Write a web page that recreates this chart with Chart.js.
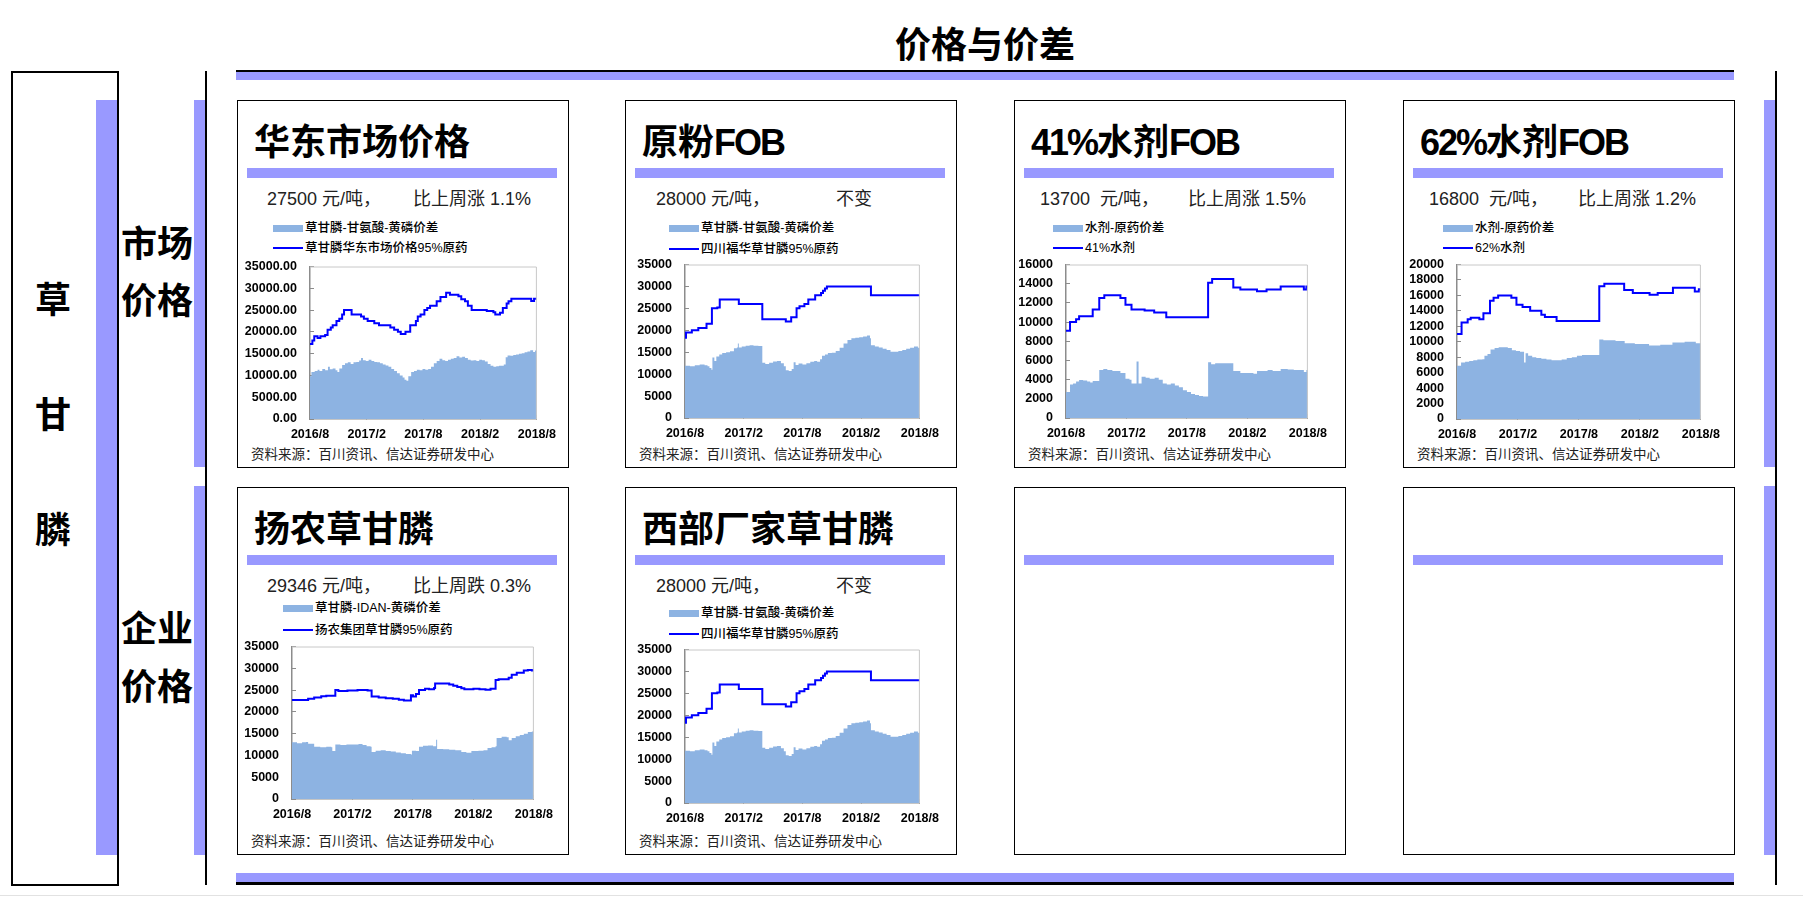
<!DOCTYPE html>
<html>
<head>
<meta charset="utf-8">
<title>价格与价差</title>
<script src="https://cdn.jsdelivr.net/npm/chart.js@4.4.0/dist/chart.umd.min.js"></script>
<style>
  body {
    margin: 0;
    width: 1803px;
    height: 907px;
    position: relative;
    overflow: hidden;
    background: #fff;
    color: #000;
    font-family: "Liberation Sans", Arial, "Noto Sans CJK SC", sans-serif;
  }
  .band { position: absolute; background: #9999ff; }
  .rule { position: absolute; background: #000; }
  .panel { position: absolute; width: 330px; height: 366px; border: 1px solid #000; background: #fff; }
  .big { position: absolute; font-weight: bold; font-size: 36px; line-height: 40px; white-space: nowrap; }
  .big .lat { letter-spacing: -2px; }
  .txt { position: absolute; white-space: pre; }
</style>
</head>
<body>

<div class="big" style="left:895px; top:26px;">价格与价差</div>
<div class="rule" style="left:236px; top:70px; width:1498px; height:2px;"></div>
<div class="band" style="left:236px; top:72px; width:1498px; height:8px;"></div>
<div class="band" style="left:236px; top:873px; width:1498px; height:9px;"></div>
<div class="rule" style="left:236px; top:882px; width:1498px; height:3px;"></div>

<!-- left side labels -->
<div style="position:absolute; left:11px; top:71px; width:104px; height:811px; border:2px solid #000;"></div>
<div class="band" style="left:96px; top:100px; width:21px; height:755px;"></div>
<div class="big" style="left:35px; top:281px;">草</div>
<div class="big" style="left:35px; top:396px;">甘</div>
<div class="big" style="left:35px; top:511px;">膦</div>
<div class="big" style="left:121px; top:225px;">市场</div>
<div class="big" style="left:121px; top:282px;">价格</div>
<div class="big" style="left:121px; top:610px;">企业</div>
<div class="big" style="left:121px; top:668px;">价格</div>
<div class="band" style="left:194px; top:100px; width:11px; height:367px;"></div>
<div class="band" style="left:194px; top:486px; width:11px; height:369px;"></div>
<div class="rule" style="left:205px; top:71px; width:2px; height:814px;"></div>
<div class="band" style="left:1764px; top:100px; width:11px; height:367px;"></div>
<div class="band" style="left:1764px; top:486px; width:11px; height:369px;"></div>
<div class="rule" style="left:1775px; top:71px; width:2px; height:814px;"></div>
<div style="position:absolute; left:0; top:895px; width:1803px; height:1px; background:#e2e2e2;"></div>

<script>
// x axis: months since 2016/8, one tick every half year
const xTickLabels = ['2016/8', '2017/2', '2017/8', '2018/2', '2018/8'];

// 华东市场价格 (元/吨): [month, value]
const eastPrice = [
  [0, 17200], [0.25, 18000], [0.45, 19000], [0.8, 18600], [1.1, 19000], [1.6, 19300], [1.86, 20500],
  [2.2, 21000], [2.4, 21500], [2.8, 22500], [3.1, 23000], [3.4, 24000], [3.6, 25000], [4.4, 24000],
  [5.4, 23500], [5.7, 23000], [6.1, 22500], [6.8, 22000], [7.3, 21500], [8.5, 21000], [8.9, 20500],
  [9.3, 20000], [9.6, 19500], [10.1, 20000], [10.6, 21500], [11.2, 22500], [11.4, 23500], [11.7, 24000],
  [12.1, 25000], [12.4, 25500], [12.7, 26000], [13.4, 27000], [13.8, 28000], [14.4, 29000], [14.8, 28500],
  [15.7, 28200], [16.0, 27500], [16.4, 27000], [16.7, 26000], [17.1, 25000], [18.7, 24800], [19.4, 24500],
  [19.6, 24000], [20.1, 24400], [20.4, 25500], [20.8, 26500], [21.0, 27000], [21.3, 27600], [23.4, 27100],
  [23.7, 27600], [24, 27600]
];
const eastSpread = [
  [0, 9800], [0.15, 10800], [0.5, 11000], [0.8, 11300], [1.0, 11000], [1.3, 11500], [1.6, 11200],
  [1.9, 12000], [2.1, 11400], [2.4, 11600], [2.7, 11200], [2.9, 10800], [3.1, 11600], [3.4, 12400],
  [3.7, 12800], [4.0, 13000], [4.3, 12600], [4.6, 13000], [4.9, 13100], [5.2, 13400], [5.4, 14000],
  [5.6, 13500], [5.9, 13300], [6.2, 13600], [6.5, 13300], [6.8, 13100], [7.1, 13000], [7.4, 12800],
  [7.7, 12500], [8.0, 12300], [8.3, 12000], [8.6, 11500], [8.9, 11000], [9.2, 10500], [9.5, 10000],
  [9.8, 9500], [10.0, 9000], [10.2, 8800], [10.4, 9800], [10.7, 10800], [11.0, 11000], [11.3, 11300],
  [11.6, 11200], [11.9, 11500], [12.2, 11300], [12.5, 11500], [12.8, 12000], [13.1, 12800], [13.4, 13300],
  [13.7, 13800], [14.0, 13500], [14.3, 13300], [14.6, 13600], [14.9, 13800], [15.2, 14000], [15.5, 14400],
  [15.8, 14100], [16.1, 14300], [16.4, 14000], [16.7, 13600], [17.0, 13400], [17.3, 13500], [17.6, 13300],
  [17.9, 13600], [18.2, 13500], [18.5, 13200], [18.8, 12600], [19.1, 12200], [19.4, 12000], [19.7, 12100],
  [20.0, 12200], [20.5, 12500], [20.7, 14200], [20.9, 14600], [21.2, 14500], [21.5, 14700], [21.8, 14800],
  [22.1, 15000], [22.4, 15100], [22.7, 15300], [23.0, 15500], [23.3, 15800], [23.6, 15400], [23.8, 15700],
  [24, 15400]
];

// 四川福华草甘膦95%原药 (原粉FOB / 西部厂家)
const fuhuaPrice = [
  [0, 18300], [0.1, 19500], [0.7, 20000], [1.36, 20500], [2.2, 21500], [2.75, 25000], [3.3, 25200],
  [3.55, 27000], [5.5, 26000], [7.9, 22500], [10.3, 22000], [10.85, 23000], [11.4, 25000], [11.7, 25500],
  [12.2, 26000], [12.6, 27000], [13.3, 28000], [13.9, 28500], [14.1, 29000], [14.3, 29500], [14.5, 30000],
  [19.0, 28000], [24, 28000]
];
const fuhuaSpread = [
  [0, 11900], [0.5, 11800], [1.0, 12000], [1.5, 12200], [2.0, 12000], [2.3, 11800], [2.5, 11400],
  [2.7, 11000], [2.8, 13800], [3.0, 13000], [3.2, 14000], [3.5, 14500], [3.8, 14800], [4.2, 15000],
  [4.6, 15200], [5.0, 15900], [5.3, 16100], [5.4, 17000], [5.5, 16100], [5.8, 16300], [6.2, 16500],
  [6.6, 16600], [7.0, 16500], [7.5, 16400], [7.9, 12600], [8.2, 12300], [8.6, 12600], [9.0, 12900],
  [9.4, 13000], [9.8, 12500], [10.1, 11800], [10.3, 10900], [10.6, 10700], [10.9, 11200], [11.1, 12700],
  [11.3, 12100], [11.6, 12400], [12.0, 12200], [12.4, 12500], [12.8, 12800], [13.2, 13000], [13.5, 12800],
  [13.8, 13400], [14.0, 14200], [14.3, 14500], [14.6, 14800], [15.0, 14900], [15.4, 15300], [15.8, 16000],
  [16.2, 17000], [16.6, 17800], [17.0, 18200], [17.4, 18300], [17.8, 18400], [18.2, 18600], [18.6, 18800],
  [18.9, 18200], [19.0, 16600], [19.4, 16300], [19.8, 16100], [20.2, 15800], [20.6, 15500], [21.0, 15100],
  [21.4, 15100], [21.8, 15300], [22.2, 15500], [22.6, 15800], [23.0, 16000], [23.4, 16300], [23.8, 16000],
  [24, 15800]
];

// 41%水剂
const aq41Price = [
  [0, 9100], [0.4, 10000], [1.0, 10300], [1.3, 10600], [2.65, 11300], [3.3, 12500], [3.8, 12800],
  [5.4, 12500], [5.9, 11800], [6.5, 11300], [7.8, 11200], [8.75, 11000], [9.95, 10500], [14.1, 14100],
  [14.5, 14500], [16.6, 13600], [17.3, 13400], [18.95, 13200], [19.9, 13400], [21.3, 13700], [23.6, 13400],
  [23.85, 13700], [24, 13700]
];
const aq41Spread = [
  [0, 2700], [0.4, 3500], [0.7, 3600], [1.0, 3800], [1.3, 3950], [1.7, 3900], [2.1, 3800], [2.4, 3700],
  [2.65, 3850], [3.0, 3850], [3.3, 5000], [3.7, 5100], [4.1, 5000], [4.6, 4900], [5.0, 4900], [5.4, 4700],
  [5.9, 4100], [6.3, 4000], [6.5, 3600], [6.9, 3600], [7.0, 5900], [7.2, 3600], [7.5, 4300], [7.9, 4200],
  [8.3, 4100], [8.8, 4200], [9.2, 4000], [9.6, 3600], [10.0, 3500], [10.4, 3600], [10.8, 3400],
  [11.2, 3200], [11.6, 2900], [12.0, 2700], [12.4, 2500], [12.8, 2400], [13.2, 2300], [13.6, 2250],
  [14.1, 5800], [14.4, 5600], [14.8, 5700], [15.4, 5700], [16.0, 5700], [16.6, 4900], [17.0, 4900],
  [17.3, 4700], [18.0, 4700], [18.6, 4600], [18.95, 4900], [19.5, 4900], [20.0, 5000], [20.5, 4900],
  [21.3, 5100], [22.0, 5050], [22.6, 5000], [23.2, 5000], [23.6, 4800], [23.85, 5000], [24, 5000]
];

// 62%水剂
const aq62Price = [
  [0, 11000], [0.45, 12500], [1.05, 12900], [1.35, 13100], [2.2, 12900], [2.6, 13700], [3.25, 15300],
  [3.6, 15700], [4.05, 16000], [5.35, 15700], [5.85, 14800], [6.45, 14500], [7.2, 14000], [8.3, 13500],
  [8.65, 13200], [9.8, 12700], [14.0, 17200], [14.5, 17500], [16.45, 16700], [17.3, 16300], [18.95, 16100],
  [19.75, 16300], [21.25, 17000], [23.4, 16500], [23.8, 16800], [24, 16800]
];
const aq62Spread = [
  [0, 6900], [0.4, 7300], [0.8, 7400], [1.2, 7500], [1.6, 7600], [2.0, 7700], [2.5, 7750], [2.7, 8200],
  [3.0, 8400], [3.3, 9000], [3.7, 9200], [4.1, 9300], [4.6, 9300], [5.0, 9200], [5.4, 8900], [5.8, 8800],
  [6.2, 8700], [6.6, 7300], [6.75, 8500], [7.0, 8200], [7.4, 8000], [7.8, 7900], [8.3, 7800], [8.8, 7700],
  [9.3, 7600], [9.8, 7600], [10.3, 7700], [10.8, 7900], [11.3, 8000], [11.8, 8200], [12.3, 8300],
  [13.0, 8300], [13.6, 8300], [14.0, 10300], [14.4, 10200], [15.0, 10200], [15.6, 10100], [16.2, 10100],
  [16.5, 9800], [17.0, 9800], [17.5, 9700], [18.2, 9700], [18.9, 9500], [19.5, 9500], [20.0, 9600],
  [20.6, 9600], [21.2, 9900], [21.8, 9900], [22.4, 10000], [23.0, 10000], [23.5, 9800], [24, 9800]
];

// 扬农集团草甘膦95%原药
const yangnongPrice = [
  [0, 22700], [1.6, 23000], [2.2, 23300], [2.9, 23600], [3.4, 23700], [4.3, 25000], [4.6, 24800],
  [5.5, 24900], [6.5, 25000], [7.5, 24900], [7.9, 23500], [8.6, 23300], [9.3, 23100], [10.0, 23000],
  [10.6, 22800], [11.1, 22600], [11.8, 23800], [12.0, 23500], [12.3, 24100], [12.6, 25000], [13.2, 25300],
  [13.6, 25200], [14.1, 25500], [14.2, 26500], [15.0, 26500], [15.6, 26300], [16.0, 26000], [16.4, 25700],
  [16.8, 25400], [17.1, 25200], [18.0, 25300], [18.6, 25200], [19.2, 25100], [19.7, 25300], [20.2, 27300],
  [20.5, 27500], [21.5, 27800], [21.8, 28500], [22.3, 29000], [23.0, 29500], [23.4, 29600], [23.8, 29500],
  [24, 29300]
];
const yangnongSpread = [
  [0, 13000], [0.5, 12800], [1.0, 13000], [1.4, 13100], [1.6, 12700], [2.2, 12000], [2.8, 11900],
  [3.4, 12000], [3.9, 11900], [4.0, 11000], [4.3, 12500], [4.8, 12400], [5.4, 12500], [6.0, 12500],
  [6.6, 12600], [7.0, 12400], [7.4, 12100], [7.8, 12000], [7.9, 10800], [8.3, 11100], [8.8, 11200],
  [9.3, 11000], [9.8, 10900], [10.3, 10700], [10.8, 10500], [11.3, 10300], [11.8, 10200], [11.9, 11100],
  [12.3, 11000], [12.6, 12000], [13.0, 12200], [13.5, 12300], [14.0, 12100], [14.3, 13600], [14.4, 11500],
  [15.0, 11400], [15.6, 11300], [16.2, 11200], [16.8, 10800], [17.3, 10600], [17.8, 11000], [18.5, 11100],
  [19.0, 11200], [19.4, 11700], [19.8, 11900], [20.2, 12100], [20.3, 14000], [20.8, 14300], [21.3, 14200],
  [21.5, 13500], [21.8, 14000], [22.2, 14400], [22.6, 14700], [23.0, 15000], [23.4, 15400], [23.8, 15500],
  [24, 15300]
];

const SOURCE = '资料来源：百川资讯、信达证券研发中心';
const SPREAD_COLOR = '#8db3e2';
const LINE_COLOR = '#0000ff';
const Y_AXIS_W = 72;

const panels = [
  { x: 237, y: 100, title: '华东市场价格', price: '27500 元/吨，', priceX: 29, change: '比上周涨 1.1%', changeX: 175,
    areaLabel: '草甘膦-甘氨酸-黄磷价差', lineLabel: '草甘膦华东市场价格95%原药', legendX: 35, legendY: [128, 148],
    area: eastSpread, line: eastPrice, yMax: 35000, yStep: 5000, decimals: 2,
    plot: { left: 72, top: 166, width: 228, height: 152 } },
  { x: 625, y: 100, title: '原粉FOB', price: '28000 元/吨，', priceX: 30, change: '不变', changeX: 210,
    areaLabel: '草甘膦-甘氨酸-黄磷价差', lineLabel: '四川福华草甘膦95%原药', legendX: 43, legendY: [128, 149],
    area: fuhuaSpread, line: fuhuaPrice, yMax: 35000, yStep: 5000, decimals: 0,
    plot: { left: 59, top: 164, width: 236, height: 153 } },
  { x: 1014, y: 100, title: '41%水剂FOB', price: '13700  元/吨，', priceX: 25, change: '比上周涨 1.5%', changeX: 173,
    areaLabel: '水剂-原药价差', lineLabel: '41%水剂', legendX: 38, legendY: [128, 148],
    area: aq41Spread, line: aq41Price, yMax: 16000, yStep: 2000, decimals: 0,
    plot: { left: 51, top: 164, width: 243, height: 153 } },
  { x: 1403, y: 100, title: '62%水剂FOB', price: '16800  元/吨，', priceX: 25, change: '比上周涨 1.2%', changeX: 174,
    areaLabel: '水剂-原药价差', lineLabel: '62%水剂', legendX: 39, legendY: [128, 148],
    area: aq62Spread, line: aq62Price, yMax: 20000, yStep: 2000, decimals: 0,
    plot: { left: 53, top: 164, width: 245, height: 154 } },
  { x: 237, y: 487, title: '扬农草甘膦', price: '29346 元/吨，', priceX: 29, change: '比上周跌 0.3%', changeX: 175,
    areaLabel: '草甘膦-IDAN-黄磷价差', lineLabel: '扬农集团草甘膦95%原药', legendX: 45, legendY: [121, 143],
    area: yangnongSpread, line: yangnongPrice, yMax: 35000, yStep: 5000, decimals: 0,
    plot: { left: 54, top: 159, width: 243, height: 152 } },
  { x: 625, y: 487, title: '西部厂家草甘膦', price: '28000 元/吨，', priceX: 30, change: '不变', changeX: 210,
    areaLabel: '草甘膦-甘氨酸-黄磷价差', lineLabel: '四川福华草甘膦95%原药', legendX: 43, legendY: [126, 147],
    area: fuhuaSpread, line: fuhuaPrice, yMax: 35000, yStep: 5000, decimals: 0,
    plot: { left: 59, top: 162, width: 236, height: 153 } },
  { x: 1014, y: 487 },
  { x: 1403, y: 487 }
];

function el(parent, cls, css, text) {
  const d = document.createElement('div');
  if (cls) d.className = cls;
  Object.assign(d.style, css);
  if (text != null) d.textContent = text;
  parent.appendChild(d);
  return d;
}

// light top/right frame around the plot area
const plotFrame = {
  id: 'plotFrame',
  afterDatasetsDraw(chart) {
    const { ctx, chartArea: a } = chart;
    ctx.save();
    ctx.strokeStyle = '#c8c8c8';
    ctx.lineWidth = 1;
    ctx.beginPath();
    ctx.moveTo(a.left, a.top + 0.5);
    ctx.lineTo(a.right - 0.5, a.top + 0.5);
    ctx.lineTo(a.right - 0.5, a.bottom);
    ctx.stroke();
    ctx.restore();
  }
};

const tickFont = { family: '"Liberation Sans", Arial, sans-serif', size: 12.5, weight: 'bold' };
const toPoints = arr => arr.map(([x, y]) => ({ x, y }));

// extra: pixels the layout pushes the plot area down; the canvas is grown by that much
function drawChart(box, p, extra) {
  extra = extra || 0;
  const w = p.plot.width + Y_AXIS_W + 30, h = p.plot.height + 40 + extra;
  const c = document.createElement('canvas');
  c.width = w;
  c.height = h;
  Object.assign(c.style, {
    position: 'absolute', left: (p.plot.left - Y_AXIS_W) + 'px', top: (p.plot.top - 10 - extra) + 'px',
    width: w + 'px', height: h + 'px'
  });
  box.appendChild(c);

  const chart = new Chart(c, {
    type: 'line',
    data: {
      datasets: [
        { label: p.lineLabel, data: toPoints(p.line), borderColor: LINE_COLOR, borderWidth: 2,
          stepped: true, pointRadius: 0, fill: false, order: 0 },
        { label: p.areaLabel, data: toPoints(p.area), borderColor: 'rgba(0,0,0,0)', borderWidth: 0,
          backgroundColor: SPREAD_COLOR, stepped: true, pointRadius: 0, fill: 'origin', order: 1 }
      ]
    },
    options: {
      responsive: false,
      maintainAspectRatio: false,
      animation: false,
      layout: { padding: { left: 0, top: 10, right: 30, bottom: 0 } },
      plugins: { legend: { display: false }, tooltip: { enabled: false } },
      scales: {
        x: {
          type: 'linear', min: 0, max: 24,
          afterFit: s => { s.height = 30; },
          ticks: { stepSize: 6, autoSkip: false, maxRotation: 0, padding: 12, color: '#000', font: tickFont,
                   callback: v => xTickLabels[v / 6] },
          grid: { drawOnChartArea: false, drawTicks: true, tickLength: -4, color: '#8c8c8c' },
          border: { display: true, color: '#8c8c8c', width: 1.5 }
        },
        y: {
          min: 0, max: p.yMax,
          afterFit: s => { s.width = Y_AXIS_W; },
          ticks: { stepSize: p.yStep, autoSkip: false, padding: 17, color: '#000', font: tickFont,
                   callback: v => v.toFixed(p.decimals) },
          grid: { drawOnChartArea: false, drawTicks: true, tickLength: -4, color: '#8c8c8c' },
          border: { display: true, color: '#8c8c8c', width: 1.5 }
        }
      }
    },
    plugins: [plotFrame]
  });

  const dy = Math.round(chart.chartArea.top - 10 - extra);
  if (!extra && dy > 0) {
    chart.destroy();
    c.remove();
    drawChart(box, p, dy);
  }
}

panels.forEach(p => {
  const box = el(document.body, 'panel', { left: p.x + 'px', top: p.y + 'px' });
  el(box, 'band', { left: '9px', top: '67px', width: '310px', height: '10px' });
  if (!p.title) return;

  const t = el(box, 'big', { left: '16px', top: '22px' });
  t.innerHTML = p.title.replace(/([0-9A-Za-z%]+)/g, '<span class="lat">$1</span>');
  el(box, 'txt', { left: p.priceX + 'px', top: '86px', fontSize: '18px', lineHeight: '24px', color: '#222' }, p.price);
  el(box, 'txt', { left: p.changeX + 'px', top: '86px', fontSize: '18px', lineHeight: '24px', color: '#222' }, p.change);

  // legend: spread as a filled bar, price as a line
  el(box, '', { position: 'absolute', left: p.legendX + 'px', top: (p.legendY[0] - 4) + 'px',
                width: '30px', height: '7px', background: SPREAD_COLOR });
  el(box, 'txt', { left: (p.legendX + 32) + 'px', top: (p.legendY[0] - 9) + 'px', fontSize: '12.5px',
                   lineHeight: '16px', fontWeight: '500' }, p.areaLabel);
  el(box, '', { position: 'absolute', left: p.legendX + 'px', top: (p.legendY[1] - 2) + 'px',
                width: '30px', height: '2px', background: LINE_COLOR });
  el(box, 'txt', { left: (p.legendX + 32) + 'px', top: (p.legendY[1] - 9) + 'px', fontSize: '12.5px',
                   lineHeight: '16px', fontWeight: '500' }, p.lineLabel);

  el(box, 'txt', { left: '13px', top: '345px', fontSize: '13.5px', lineHeight: '18px', color: '#222' }, SOURCE);

  drawChart(box, p);
});
</script>
</body>
</html>
